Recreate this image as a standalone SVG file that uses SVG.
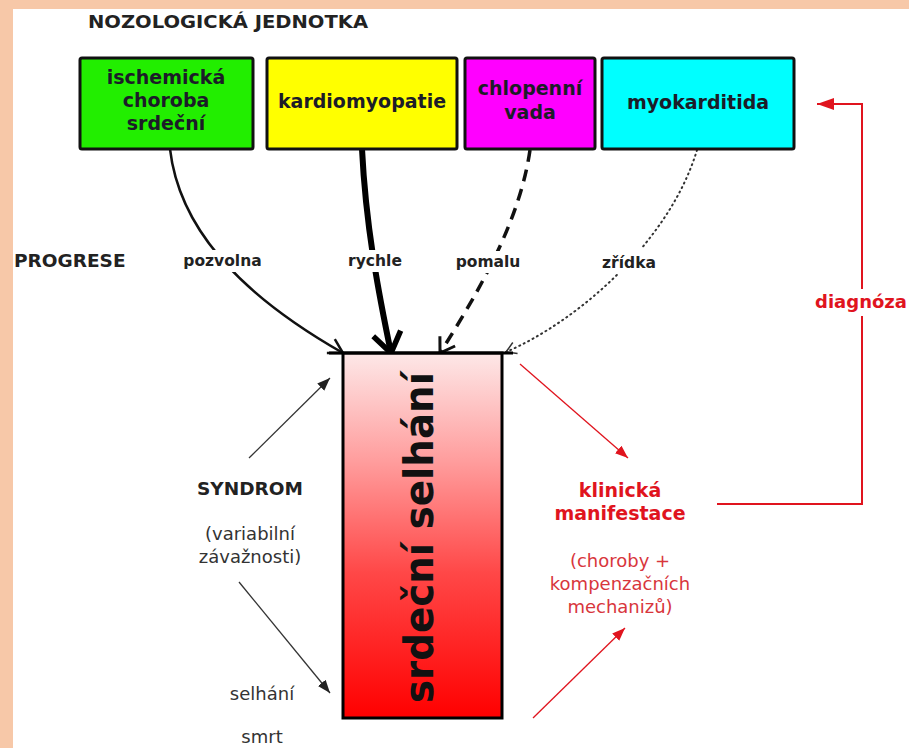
<svg xmlns="http://www.w3.org/2000/svg" width="909" height="748" viewBox="0 0 909 748">
<style>
text{font-family:"DejaVu Sans","Verdana",sans-serif;}
.b{font-weight:bold;}
.box{stroke:#111;stroke-width:3;}
.lbl{font-size:19px;font-weight:bold;fill:#1c1c28;text-anchor:middle;}
.edge{font-size:15.5px;font-weight:bold;fill:#222;text-anchor:middle;}
.gray{font-size:18px;fill:#333;text-anchor:middle;}
.redb{font-size:19px;font-weight:bold;fill:#e0141e;text-anchor:middle;}
.red{font-size:18px;fill:#d8363c;text-anchor:middle;}
.bg{fill:#fff;}
</style>
<defs>
<linearGradient id="hf" x1="0" y1="0" x2="0" y2="1">
<stop offset="0" stop-color="#fde8e8"/>
<stop offset="0.3" stop-color="#ff9c9c"/>
<stop offset="0.6" stop-color="#ff4848"/>
<stop offset="1" stop-color="#ff0000"/>
</linearGradient>
<marker id="vOpen" markerUnits="userSpaceOnUse" markerWidth="24" markerHeight="24" viewBox="0 0 24 24" refX="20" refY="12" orient="auto">
<path d="M6,4 L20,12 L6,20" fill="none" stroke="#111" stroke-width="2.5"/>
</marker>
<marker id="vThick" markerUnits="userSpaceOnUse" markerWidth="36" markerHeight="36" viewBox="0 0 36 36" refX="29" refY="18" orient="auto">
<path d="M9,4 L29,18 L9,32" fill="none" stroke="#000" stroke-width="5.5"/>
</marker>
<marker id="vDash" markerUnits="userSpaceOnUse" markerWidth="26" markerHeight="26" viewBox="0 0 26 26" refX="21" refY="13" orient="auto">
<path d="M7,4 L21,13 L7,22" fill="none" stroke="#111" stroke-width="3"/>
</marker>
<marker id="vDot" markerUnits="userSpaceOnUse" markerWidth="20" markerHeight="20" viewBox="0 0 20 20" refX="16" refY="10" orient="auto">
<path d="M6,4 L16,10 L6,16" fill="none" stroke="#333" stroke-width="1.5"/>
</marker>
<marker id="fBlack" markerUnits="userSpaceOnUse" markerWidth="14" markerHeight="12" viewBox="0 0 14 12" refX="13" refY="6" orient="auto">
<path d="M0,1 L13,6 L0,11 Z" fill="#222"/>
</marker>
<marker id="fRed" markerUnits="userSpaceOnUse" markerWidth="14" markerHeight="12" viewBox="0 0 14 12" refX="13" refY="6" orient="auto">
<path d="M0,1 L13,6 L0,11 Z" fill="#e0141e"/>
</marker>
<marker id="fRedBig" markerUnits="userSpaceOnUse" markerWidth="18" markerHeight="14" viewBox="0 0 18 14" refX="17" refY="7" orient="auto">
<path d="M0,1 L17,7 L0,13 Z" fill="#e0141e"/>
</marker>
</defs>

<rect x="0" y="0" width="909" height="748" fill="#f7c8a8"/>
<rect x="13" y="9" width="896" height="739" fill="#ffffff"/>

<text class="b" x="88" y="28" font-size="18" fill="#222" textLength="280" lengthAdjust="spacingAndGlyphs">NOZOLOGICKÁ JEDNOTKA</text>
<text class="b" x="14" y="267" font-size="18.5" fill="#222">PROGRESE</text>

<g id="connectors">
<path d="M170,149 C180,235 250,300 343,353" fill="none" stroke="#111" stroke-width="2.5" marker-end="url(#vOpen)"/>
<path d="M362,149 C366,230 380,300 391,353" fill="none" stroke="#000" stroke-width="6" marker-end="url(#vThick)"/>
<path d="M530,150 C520,220 480,290 440,353" fill="none" stroke="#111" stroke-width="3.5" stroke-dasharray="12,8" marker-end="url(#vDash)"/>
<path d="M697,150 C670,240 580,320 506,352" fill="none" stroke="#333" stroke-width="2" stroke-dasharray="1,4" stroke-linecap="round" marker-end="url(#vDot)"/>
<line x1="249" y1="458" x2="330" y2="378" stroke="#333" stroke-width="1.3" marker-end="url(#fBlack)"/>
<line x1="239" y1="582" x2="330" y2="693" stroke="#333" stroke-width="1.3" marker-end="url(#fBlack)"/>
<line x1="520" y1="364" x2="628" y2="458" stroke="#e0141e" stroke-width="1.3" marker-end="url(#fRed)"/>
<line x1="533" y1="718" x2="625" y2="628" stroke="#e0141e" stroke-width="1.3" marker-end="url(#fRed)"/>
<polyline points="717,504 862,504 862,104 817,104" fill="none" stroke="#e0141e" stroke-width="2" marker-end="url(#fRedBig)"/>
<rect class="bg" x="180" y="250" width="86" height="22"/>
<text class="edge" x="222.5" y="266">pozvolna</text>
<rect class="bg" x="344" y="250" width="62" height="22"/>
<text class="edge" x="375" y="266">rychle</text>
<rect class="bg" x="452" y="251" width="72" height="22"/>
<text class="edge" x="488" y="267">pomalu</text>
<rect class="bg" x="598" y="248" width="62" height="26"/>
<text class="edge" x="629" y="268">zřídka</text>
<rect class="bg" x="812" y="289" width="97" height="27"/>
<text class="b" x="861" y="308" font-size="18" fill="#e0141e" text-anchor="middle">diagnóza</text>
</g>

<g id="n-ischemicka">
<rect class="box" x="80" y="58" width="173" height="91" rx="2" fill="#22ee00"/>
<text class="lbl" x="166" y="84">ischemická</text>
<text class="lbl" x="166" y="107">choroba</text>
<text class="lbl" x="166" y="130">srdeční</text>
</g>
<g id="n-kardiomyopatie">
<rect class="box" x="267" y="58" width="190" height="91" rx="2" fill="#ffff00"/>
<text class="lbl" x="362" y="108">kardiomyopatie</text>
</g>
<g id="n-chlopenni">
<rect class="box" x="465" y="58" width="130" height="91" rx="2" fill="#ff00ff"/>
<text class="lbl" x="530" y="95">chlopenní</text>
<text class="lbl" x="530" y="119">vada</text>
</g>
<g id="n-myokarditida">
<rect class="box" x="602" y="58" width="192" height="91" rx="2" fill="#00ffff"/>
<text class="lbl" x="698" y="109">myokarditida</text>
</g>

<g id="n-srdecni-selhani">
<rect x="343" y="353" width="159" height="365" fill="url(#hf)" stroke="#000" stroke-width="3"/>
<line x1="329" y1="353" x2="513" y2="353" stroke="#000" stroke-width="3"/>
<text class="b" transform="translate(433,537.5) rotate(-90)" x="0" y="0" font-size="40" fill="#111" text-anchor="middle" textLength="331" lengthAdjust="spacingAndGlyphs">srdeční selhání</text>
</g>

<g id="n-syndrom">
<text class="b" x="250" y="495" font-size="18.5" fill="#222" text-anchor="middle">SYNDROM</text>
<text class="gray" x="250" y="540">(variabilní</text>
<text class="gray" x="250" y="563">závažnosti)</text>
</g>
<g id="n-selhani">
<text class="gray" x="262" y="700">selhání</text>
</g>
<g id="n-smrt">
<text class="gray" x="262" y="743">smrt</text>
</g>

<g id="n-klinicka">
<text class="redb" x="620" y="497">klinická</text>
<text class="redb" x="620" y="520">manifestace</text>
<text class="red" x="620" y="567">(choroby +</text>
<text class="red" x="620" y="590">kompenzačních</text>
<text class="red" x="620" y="613">mechanizů)</text>
</g>
</svg>
